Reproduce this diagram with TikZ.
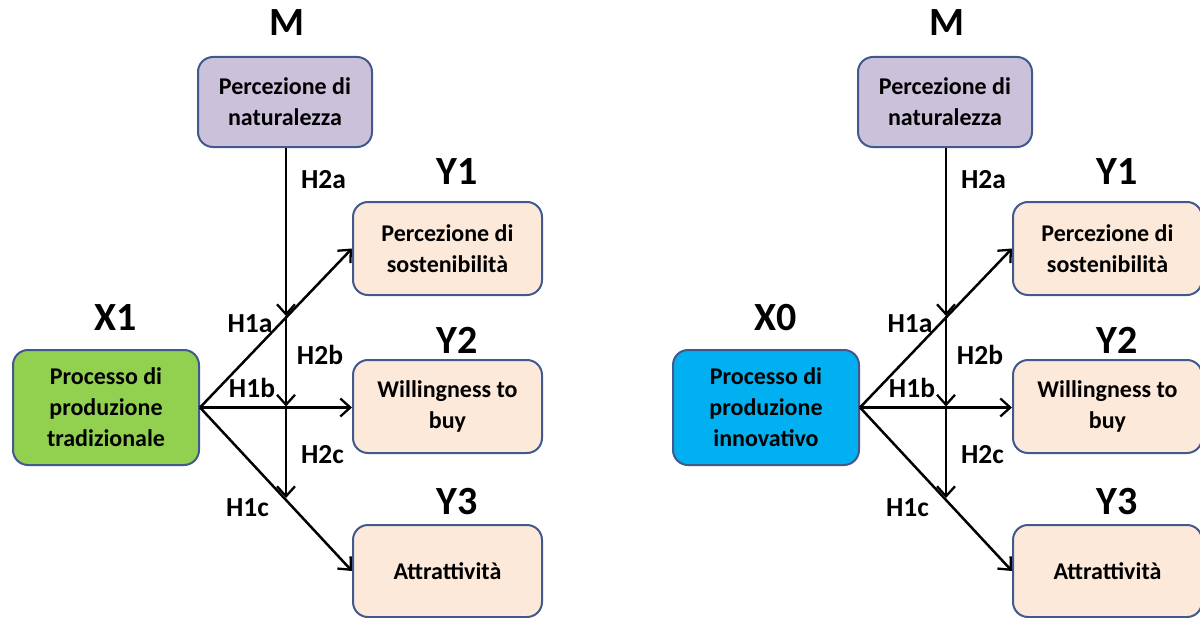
\documentclass[tikz,border=0pt]{standalone}
\usepackage{fontspec}
\setmainfont{Carlito}
\usetikzlibrary{arrows.meta}
\definecolor{frame}{HTML}{41598C}
\definecolor{lav}{HTML}{CCC1DA}
\definecolor{peach}{HTML}{FDE9D9}
\definecolor{grn}{HTML}{92D050}
\definecolor{cyanb}{HTML}{00B0F0}
\tikzset{
  box/.style={draw=frame, line width=2pt, rounded corners=15pt, align=center,
    font=\bfseries\fontsize{24}{31}\selectfont, inner sep=0pt},
  tag/.style={font=\bfseries\fontsize{40}{40}\selectfont, inner sep=0pt},
  hyp/.style={font=\bfseries\fontsize{27.5}{27.5}\selectfont, inner sep=0pt},
  link/.style={line width=2.5pt, -{Straight Barb[length=10pt,width=18pt,line width=2.3pt]}}
}
\begin{document}
\begin{tikzpicture}[x=1pt,y=-1pt]
\useasboundingbox (0,0) rectangle (1200,618);
\clip (0,0) rectangle (1200,618);
\foreach \dx/\xl/\xtext/\xcol/\p in {0/X1/tradizionale/grn/L,660/X0/innovativo/cyanb/R}{
  \begin{scope}[xshift=\dx]
  % mediator, predictor and outcome boxes
  \node[box, fill=lav, minimum width=174, minimum height=90] (m\p) at (285,102) {Percezione di\\naturalezza};
  \node[box, fill=\xcol, minimum width=186, minimum height=115] (x\p) at (106,407.5) {Processo di\\produzione\\\xtext};
  \node[box, fill=peach, minimum width=189, minimum height=93] (ya\p) at (447.5,248.5) {Percezione di\\sostenibilità};
  \node[box, fill=peach, minimum width=189, minimum height=93] (yb\p) at (447.5,406.5) {Willingness to\\buy};
  \node[box, fill=peach, minimum width=189, minimum height=92] (yc\p) at (447.5,571) {Attrattività};
  % variable tags
  \node[tag] (tm\p) at (287,23) {M};
  \node[tag] (tx\p) at (116,318) {\xl};
  \node[tag] (t1\p) at (457,172) {Y1};
  \node[tag] (t2\p) at (457,340) {Y2};
  \node[tag] (t3\p) at (457,502) {Y3};
  % junctions on the moderation line
  \coordinate (ja\p) at (286,316);
  \coordinate (jb\p) at (286,406.5);
  \coordinate (jc\p) at (286,498);
  % direct effects
  \draw[link] (x\p.east) -- (ya\p.west);
  \draw[link] (x\p.east) -- (yb\p.west |- x\p.east);
  \draw[link] (x\p.east) -- (yc\p.west);
  % moderation arrows
  \draw[link] (m\p.south -| ja\p) -- (ja\p);
  \draw[link] (ja\p) -- (jb\p);
  \draw[link] (jb\p) -- (jc\p);
  % hypothesis labels
  \node[hyp] (h2a\p) at (323.5,180) {H2a};
  \node[hyp] (h1a\p) at (250,324) {H1a};
  \node[hyp] (h2b\p) at (320,355) {H2b};
  \node[hyp] (h1b\p) at (252,388) {H1b};
  \node[hyp] (h2c\p) at (322.5,455) {H2c};
  \node[hyp] (h1c\p) at (247.5,508) {H1c};
  \end{scope}
}
\end{tikzpicture}
\end{document}
